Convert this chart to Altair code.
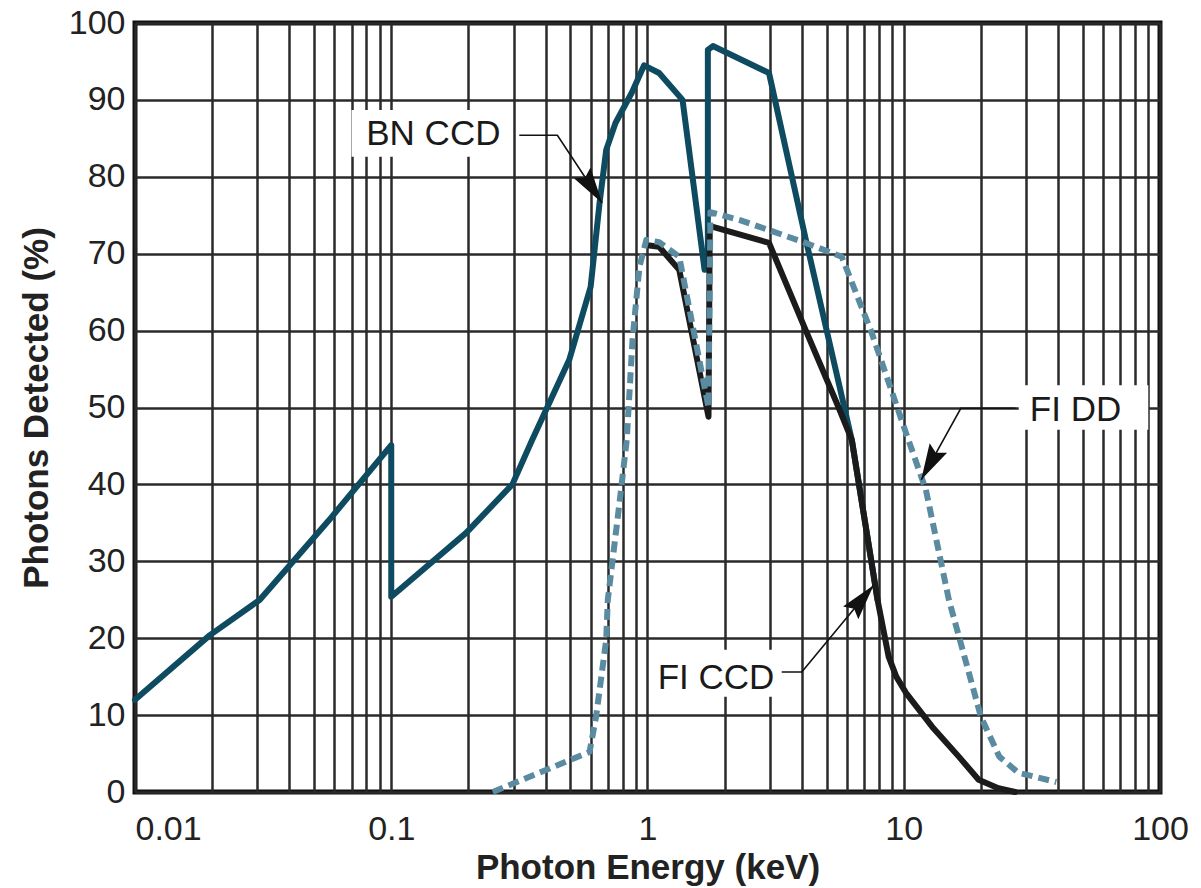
import altair as alt
import pandas as pd

# ---------------- data ----------------
BN_E = [0.01, 0.0196, 0.0307, 0.057, 0.1, 0.1, 0.196, 0.297, 0.355, 0.495, 0.60,
        0.65, 0.69, 0.75, 0.87, 0.97, 1.11, 1.37, 1.67, 1.72, 1.72, 1.80, 2.98,
        4.15, 6.27, 7.9]
BN_V = [12, 20.4, 25, 35.3, 45.1, 25.4, 33.7, 40, 45.8, 56.2, 65.7,
        76.6, 83.5, 87, 91, 94.5, 93.5, 90, 67.9, 68, 96.5, 97, 93.5,
        71.8, 45.8, 25]

FICCD_E = [1.0, 1.11, 1.33, 1.73, 1.75, 1.80, 2.98, 4.15, 5.57, 6.27, 7.9, 8.73,
           9.35, 10.2, 12.9, 16.4, 19.6, 23.4, 27.2]
FICCD_V = [71.1, 70.9, 67.9, 48.8, 73.4, 73.5, 71.4, 60, 50, 45.8, 25, 17.6,
           15, 12.9, 8.5, 4.6, 1.6, 0.5, 0]

FIDD_E = [0.249, 0.594, 0.63, 0.69, 0.70, 0.78, 0.83, 0.874, 0.93, 0.99, 1.11,
          1.33, 1.73, 1.76, 2.28, 4.15, 5.73, 7.5, 10.2, 12.2, 15.0, 20.0, 23.6,
          28.0, 39.4]
FIDD_V = [0, 5.2, 9.8, 19.8, 25, 38, 45.8, 58.8, 68.3, 71.8, 71.5,
          69.6, 50, 75.4, 74.4, 71.4, 69.6, 59.7, 46.7, 39.3, 25, 9.8, 4.6,
          2.5, 1.3]

DECADES = [0.01, 0.1, 1, 10, 100]
X_TICK_LABELS = ["0.01", "0.1", "1", "10", "100"]
X_GRID = [m * 10.0 ** k for k in range(-2, 2) for m in range(1, 10)] + [100]
Y_TICKS = list(range(0, 101, 10))

ANN_TEXT = ["BN CCD", "FI DD", "FI CCD"]
ANN_E = [0.146, 46.8, 1.85]
ANN_V = [85.6, 49.7, 14.8]
BOX_E1 = [0.070, 28.1, 1.03]
BOX_E2 = [0.289, 90.0, 3.56]
BOX_V1 = [82.6, 47.1, 12.4]
BOX_V2 = [88.7, 52.9, 18.5]

LEAD_BN_E = [0.316, 0.445, 0.665]
LEAD_BN_V = [85.4, 85.4, 76.6]
LEAD_DD_E = [27.3, 16.7, 11.7]
LEAD_DD_V = [49.9, 49.9, 40.6]
LEAD_CCD_E = [3.34, 4.0, 7.63]
LEAD_CCD_V = [15.6, 15.6, 26.9]
ARROW_ANGLE = [146.5, 208.4, 39.6]

# ---------------- styling ----------------
FONT = "Liberation Sans, Arial, Helvetica, sans-serif"
BN_COLOR = "#0f4b60"
FICCD_COLOR = "#1b1b1b"
FIDD_COLOR = "#5a8ba1"
GRID_COLOR = "#2a2a2a"


def df_line(E, V):
    return pd.DataFrame({"E": E, "V": V, "i": list(range(len(E)))})


label_expr = " : ".join(
    f"abs(datum.value - {d}) < 1e-9 ? '{t}'" for d, t in zip(DECADES, X_TICK_LABELS)
) + " : ''"

x_scale = alt.Scale(type="log", domain=[0.01, 100], nice=False)
y_scale = alt.Scale(domain=[0, 100], nice=False, zero=True)

x_axis = alt.Axis(
    values=X_GRID,
    labelExpr=label_expr,
    labelOverlap=False,
    labelBound=False,
    labelFlush=False,
    labelAlign=alt.expr("datum.value < 0.011 ? 'left' : 'center'"),
    labelFontSize=34,
    labelFont=FONT,
    labelColor="#222",
    labelPadding=20,
    ticks=False,
    tickSize=0,
    domain=False,
    grid=True,
    gridColor=GRID_COLOR,
    gridWidth=2.5,
    gridOpacity=1,
    title="Photon Energy (keV)",
    titleFont=FONT,
    titleFontSize=35,
    titleFontWeight="bold",
    titleColor="#222",
    titlePadding=4,
)

y_axis = alt.Axis(
    values=Y_TICKS,
    labelFontSize=34,
    labelFont=FONT,
    labelColor="#222",
    labelPadding=10,
    ticks=False,
    tickSize=0,
    domain=False,
    grid=True,
    gridColor=GRID_COLOR,
    gridWidth=2.5,
    gridOpacity=1,
    title="Photons Detected (%)",
    titleFont=FONT,
    titleFontSize=35,
    titleFontWeight="bold",
    titleColor="#222",
    titlePadding=14,
)


def X(field="E"):
    return alt.X(f"{field}:Q", scale=x_scale, axis=x_axis)


def Y(field="V"):
    return alt.Y(f"{field}:Q", scale=y_scale, axis=y_axis)


bn = alt.Chart(df_line(BN_E, BN_V)).mark_line(
    color=BN_COLOR, strokeWidth=6, strokeJoin="round", strokeCap="round"
).encode(x=X(), y=Y(), order=alt.Order("i:Q"))

ficcd = alt.Chart(df_line(FICCD_E, FICCD_V)).mark_line(
    color=FICCD_COLOR, strokeWidth=6, strokeJoin="round", strokeCap="round"
).encode(x=X(), y=Y(), order=alt.Order("i:Q"))

fidd = alt.Chart(df_line(FIDD_E, FIDD_V)).mark_line(
    color=FIDD_COLOR, strokeWidth=6, strokeDash=[11, 6], strokeJoin="round"
).encode(x=X(), y=Y(), order=alt.Order("i:Q"))

boxes_df = pd.DataFrame({"E1": BOX_E1, "E2": BOX_E2, "V1": BOX_V1, "V2": BOX_V2})
boxes = alt.Chart(boxes_df).mark_rect(color="white").encode(
    x=X("E1"), x2="E2:Q", y=Y("V1"), y2="V2:Q"
)

text_df = pd.DataFrame({"E": ANN_E, "V": ANN_V, "t": ANN_TEXT})
texts = alt.Chart(text_df).mark_text(
    font=FONT, fontSize=35, color="#1a1a1a", align="center", baseline="middle"
).encode(x=X(), y=Y(), text="t:N")

lead_rows = []
for k, (Es, Vs) in enumerate([(LEAD_BN_E, LEAD_BN_V), (LEAD_DD_E, LEAD_DD_V),
                              (LEAD_CCD_E, LEAD_CCD_V)]):
    for i, (e, v) in enumerate(zip(Es, Vs)):
        lead_rows.append({"E": e, "V": v, "g": ANN_TEXT[k], "i": i})
lead_df = pd.DataFrame(lead_rows)
leaders = alt.Chart(lead_df).mark_line(color="#111", strokeWidth=1.6).encode(
    x=X(), y=Y(), detail="g:N", order=alt.Order("i:Q")
)

tips_df = pd.DataFrame({
    "E": [LEAD_BN_E[-1], LEAD_DD_E[-1], LEAD_CCD_E[-1]],
    "V": [LEAD_BN_V[-1], LEAD_DD_V[-1], LEAD_CCD_V[-1]],
    "a": ARROW_ANGLE,
})
arrows = alt.Chart(tips_df).mark_point(
    shape="M0,0 L0.55,2 L0,1.7 L-0.55,2 Z", size=1300, filled=True,
    color="#111", opacity=1, strokeWidth=0
).encode(x=X(), y=Y(), angle=alt.Angle("a:Q", scale=None))

chart = alt.layer(bn, ficcd, fidd, boxes, leaders, arrows, texts).properties(
    width=1025,
    height=769,
    autosize=alt.AutoSizeParams(type="none"),
    padding={"left": 135, "top": 23, "right": 41, "bottom": 96},
    background="white",
).configure_view(
    stroke="#111", strokeWidth=5
)

chart.save("out.html", embed_options={"renderer": "svg", "actions": False})
